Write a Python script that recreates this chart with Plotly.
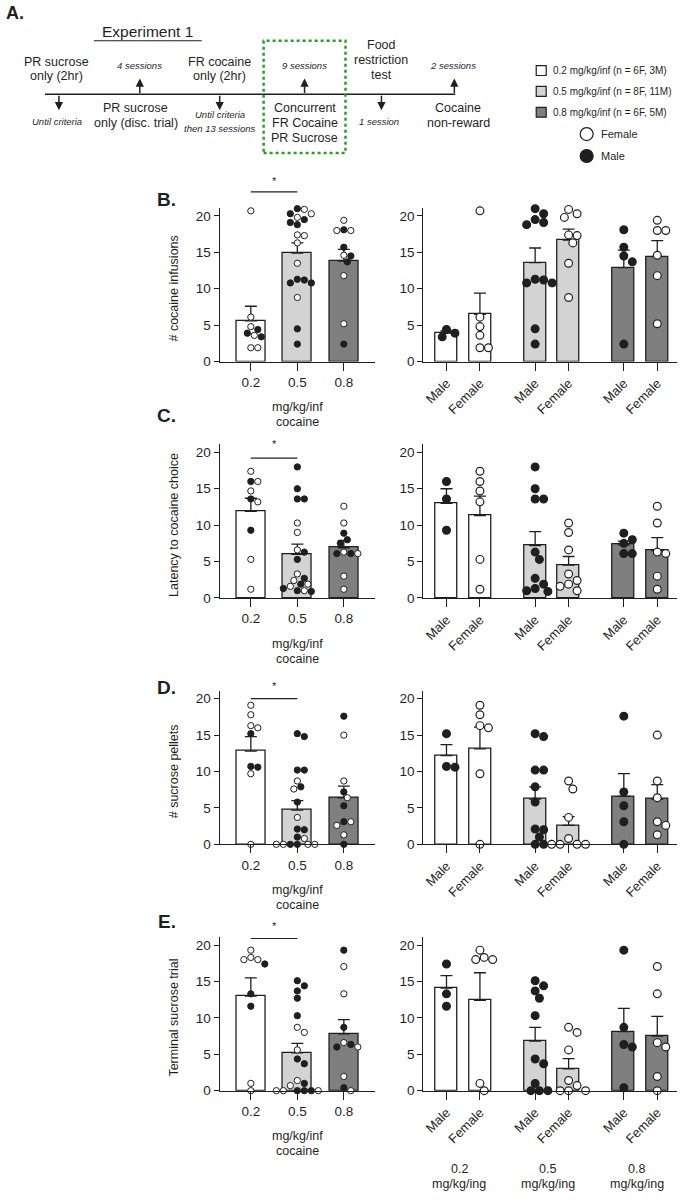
import numpy as np
import plotly.graph_objects as go

W, H = 690, 1200
FONT = "Liberation Sans, Arial, Helvetica, sans-serif"
INK = "#1f1f1f"

# ------------------------------------------------------------------ data
doses = ["0.2", "0.5", "0.8"]
sex_labels = ["Male", "Female"]
dose_fill = ["#ffffff", "#d3d3d3", "#7f7f7f"]
legend_labels = ["0.2 mg/kg/inf (n = 6F, 3M)", "0.5 mg/kg/inf (n = 8F, 11M)", "0.8 mg/kg/inf (n = 6F, 5M)"]
panel_letters = ["B.", "C.", "D.", "E."]
y_titles = ["# cocaine infusions", "Latency to cocaine choice", "# sucrose pellets", "Terminal sucrose trial"]
y_ticks = [0, 5, 10, 15, 20]
bottom_labels = ["0.2<br>mg/kg/ing", "0.5<br>mg/kg/ing", "0.8<br>mg/kg/ing"]

# B: # cocaine infusions (individual animals per dose)
B_male = [[3.4, 4.4, 3.9],
          [21.0, 20.3, 19.5, 18.8, 19.1, 11.3, 10.8, 10.8, 11.2, 4.5, 2.4],
          [18.1, 14.5, 15.7, 13.7, 2.4]]
B_female = [[20.7, 6.1, 4.8, 3.6, 1.9, 1.9],
            [20.9, 20.3, 19.8, 17.3, 17.4, 16.3, 13.5, 8.8],
            [18.0, 19.4, 18.0, 14.6, 11.8, 5.2]]
B_mean_all = [5.6, 14.9, 13.8]
B_sem_all = [2.0, 1.4, 1.6]
B_mean_m = [3.9, 13.6, 12.9]
B_sem_m = [0.3, 2.0, 2.4]
B_mean_f = [6.5, 16.7, 14.4]
B_sem_f = [2.9, 1.5, 2.2]

# C: latency to cocaine choice
C_male = [[16.0, 13.6, 9.3],
          [18.0, 15.0, 13.6, 13.6, 6.3, 5.3, 2.7, 1.9, 1.3, 1.0, 0.9],
          [8.9, 7.5, 8.0, 6.1, 6.1]]
C_female = [[17.4, 16.0, 14.7, 13.2, 5.3, 1.2],
            [10.3, 9.0, 6.6, 3.3, 2.4, 1.9, 1.6, 1.0],
            [12.6, 10.3, 6.1, 6.3, 3.0, 1.2]]
C_mean_all = [11.9, 6.0, 6.9]
C_sem_all = [1.8, 1.4, 1.0]
C_mean_m = [13.0, 7.2, 7.3]
C_sem_m = [2.0, 1.9, 0.5]
C_mean_f = [11.3, 4.5, 6.5]
C_sem_f = [2.7, 1.2, 1.8]

# D: # sucrose pellets
D_male = [[15.2, 10.6, 10.7],
          [15.2, 14.8, 10.2, 10.2, 7.9, 5.8, 2.1, 2.0, 1.0, 0.0, 0.0],
          [17.6, 7.2, 5.3, 3.1, 0.0]]
D_female = [[19.1, 17.8, 16.0, 16.3, 9.7, 0.0],
            [8.7, 7.6, 3.7, 0.8, 0.0, 0.0, 0.0, 0.0],
            [15.0, 8.7, 6.4, 3.1, 2.6, 1.3]]
D_mean_all = [12.8, 4.7, 6.4]
D_sem_all = [2.0, 1.3, 1.6]
D_mean_m = [12.2, 6.2, 6.6]
D_sem_m = [1.5, 1.7, 3.1]
D_mean_f = [13.1, 2.6, 6.2]
D_sem_f = [3.0, 1.2, 2.0]

# E: terminal sucrose trial
E_male = [[17.4, 13.3, 11.6],
          [15.1, 14.4, 13.7, 12.7, 10.3, 4.35, 3.7, 1.0, 0.0, 0.0, 0.0],
          [19.3, 8.7, 6.35, 6.0, 0.4]]
E_female = [[19.3, 18.3, 18.0, 18.0, 1.0, 0.0],
            [8.7, 8.0, 5.6, 1.4, 0.7, 0.0, 0.0, 0.0],
            [17.05, 13.3, 6.0, 6.6, 1.95, 0.0]]
E_mean_all = [13.0, 5.2, 7.8]
E_sem_all = [2.5, 1.3, 1.95]
E_mean_m = [14.1, 6.8, 8.1]
E_sem_m = [1.7, 1.9, 3.2]
E_mean_f = [12.4, 3.0, 7.5]
E_sem_f = [3.8, 1.4, 2.7]

sig_line = [23.3, 19.2, 20.0, 20.9]   # 0.2 vs 0.5 comparison bar height
sig_star = [24.8, 21.1, 21.8, 22.6]

panels = [
    (B_male, B_female, B_mean_all, B_sem_all, B_mean_m, B_sem_m, B_mean_f, B_sem_f),
    (C_male, C_female, C_mean_all, C_sem_all, C_mean_m, C_sem_m, C_mean_f, C_sem_f),
    (D_male, D_female, D_mean_all, D_sem_all, D_mean_m, D_sem_m, D_mean_f, D_sem_f),
    (E_male, E_female, E_mean_all, E_sem_all, E_mean_m, E_sem_m, E_mean_f, E_sem_f),
]

# ------------------------------------------------------------------ geometry
AX_Y0 = [364, 602, 850, 1098]      # pixel row of y = 0 for each row
PPU_Y = 7.33                       # pixels per y unit
Y_TOP = 21.1
L_X0, L_X1, L_RANGE = 219, 375, (-0.67, 2.68)
R_X0, R_X1, R_RANGE = 423, 677, (-0.69, 6.89)
GROUP_STEP = 2.65
L_PPU = (L_X1 - L_X0) / (L_RANGE[1] - L_RANGE[0])
R_PPU = (R_X1 - R_X0) / (R_RANGE[1] - R_RANGE[0])


def px(x):
    return x / W


def py(y):
    return 1 - y / H


def lx_px(pos):
    return L_X0 + (pos - L_RANGE[0]) * L_PPU


def swarm(values, xppu, yppu, d):
    """Greedy beeswarm: returns x offsets (data units) so markers don't overlap."""
    order = sorted(range(len(values)), key=lambda i: -values[i])
    res = [0.0] * len(values)
    placed = []
    step = d * 0.5
    cands = [0.0]
    for n in range(1, 40):
        cands += [n * step, -n * step]
    for i in order:
        yv = values[i] * yppu
        for c in cands:
            if all((c - a) ** 2 + (yv - b) ** 2 >= (d * 0.95) ** 2 for a, b in placed):
                res[i] = c / xppu
                placed.append((c, yv))
                break
    return res


fig = go.Figure()
layout_axes = {}
anns = []
shapes = []


def note(x, y, text, size=12.5, xanchor="center", yanchor="middle", **kw):
    anns.append(dict(x=px(x), y=py(y), xref="paper", yref="paper", text=text,
                     showarrow=False, xanchor=xanchor, yanchor=yanchor,
                     font=dict(family=FONT, size=size, color=INK), **kw))


axis_common = dict(showline=True, linecolor=INK, linewidth=1.3, ticks="outside",
                   tickcolor=INK, tickwidth=1.3, showgrid=False, zeroline=False,
                   tickfont=dict(family=FONT, size=13.5, color=INK), fixedrange=True)

for r, (m_vals, f_vals, mean_all, sem_all, mean_m, sem_m, mean_f, sem_f) in enumerate(panels):
    li, ri = 2 * r + 1, 2 * r + 2
    xl = "x" if li == 1 else f"x{li}"
    yl = "y" if li == 1 else f"y{li}"
    xr, yr = f"x{ri}", f"y{ri}"
    y0 = AX_Y0[r]
    ydom = [py(y0), py(y0 - Y_TOP * PPU_Y)]

    # ---- left: by dose
    fig.add_trace(go.Bar(
        x=list(range(3)), y=mean_all, width=0.62, xaxis=xl, yaxis=yl,
        marker=dict(color=dose_fill, line=dict(color=INK, width=1.3)),
        error_y=dict(type="data", array=sem_all, arrayminus=[0] * 3, symmetric=False,
                     color=INK, thickness=1.3, width=6),
        hoverinfo="skip"))
    xs, ys, cols = [], [], []
    for i in range(3):
        vals = m_vals[i] + f_vals[i]
        offs = swarm(vals, L_PPU, PPU_Y, 7.0)
        xs += [i + o for o in offs]
        ys += vals
        cols += [INK] * len(m_vals[i]) + ["white"] * len(f_vals[i])
    fig.add_trace(go.Scatter(
        x=xs, y=ys, mode="markers", xaxis=xl, yaxis=yl, cliponaxis=False,
        marker=dict(size=6.3, color=cols, line=dict(color=INK, width=1)),
        hoverinfo="skip"))

    # ---- right: by dose and sex
    rpos, rmean, rsem, rcol, rtext = [], [], [], [], []
    for i in range(3):
        for s in range(2):
            rpos.append(i * GROUP_STEP + s)
            rmean.append(mean_m[i] if s == 0 else mean_f[i])
            rsem.append(sem_m[i] if s == 0 else sem_f[i])
            rcol.append(dose_fill[i])
            rtext.append(sex_labels[s])
    fig.add_trace(go.Bar(
        x=rpos, y=rmean, width=0.66, xaxis=xr, yaxis=yr,
        marker=dict(color=rcol, line=dict(color=INK, width=1.3)),
        error_y=dict(type="data", array=rsem, arrayminus=[0] * 6, symmetric=False,
                     color=INK, thickness=1.3, width=6),
        hoverinfo="skip"))
    xs, ys, cols = [], [], []
    for i in range(3):
        for s, vals in enumerate([m_vals[i], f_vals[i]]):
            offs = swarm(vals, R_PPU, PPU_Y, 8.5)
            base = i * GROUP_STEP + s
            xs += [base + o for o in offs]
            ys += vals
            cols += [INK if s == 0 else "white"] * len(vals)
    fig.add_trace(go.Scatter(
        x=xs, y=ys, mode="markers", xaxis=xr, yaxis=yr, cliponaxis=False,
        marker=dict(size=7.8, color=cols, line=dict(color=INK, width=1.2)),
        hoverinfo="skip"))

    # ---- axes
    layout_axes["xaxis" if li == 1 else f"xaxis{li}"] = dict(
        axis_common, domain=[px(L_X0), px(L_X1)], range=list(L_RANGE), anchor=yl,
        tickvals=[0, 1, 2], ticktext=doses, ticklen=8)
    layout_axes["yaxis" if li == 1 else f"yaxis{li}"] = dict(
        axis_common, domain=ydom, range=[0, Y_TOP], anchor=xl, tickvals=y_ticks, ticklen=5)
    layout_axes[f"xaxis{ri}"] = dict(
        axis_common, domain=[px(R_X0), px(R_X1)], range=list(R_RANGE), anchor=yr,
        tickvals=rpos, ticktext=rtext, ticklen=8, tickangle=-45,
        tickfont=dict(family=FONT, size=13, color=INK))
    layout_axes[f"yaxis{ri}"] = dict(
        axis_common, domain=ydom, range=[0, Y_TOP], anchor=xr, tickvals=y_ticks, ticklen=5)

    # ---- annotations for the row
    note(166, [201, 418, 692, 928][r], "<b>%s</b>" % panel_letters[r], size=19)
    note(173, y0 - 10 * PPU_Y, y_titles[r], size=12.5, textangle=-90)
    note((L_X0 + L_X1) / 2, y0 + 46, "mg/kg/inf", size=12.5)
    note((L_X0 + L_X1) / 2, y0 + 61, "cocaine", size=12.5)
    ly = y0 - sig_line[r] * PPU_Y
    shapes.append(dict(type="line", xref="paper", yref="paper",
                       x0=px(lx_px(0)), x1=px(lx_px(1)), y0=py(ly), y1=py(ly),
                       line=dict(color=INK, width=1.2)))
    note(lx_px(0.5), y0 - sig_star[r] * PPU_Y, "*", size=11)

for i, lab in enumerate(bottom_labels):
    cx = R_X0 + (i * GROUP_STEP + 0.5 - R_RANGE[0]) * R_PPU - 4
    top, bot = lab.split("<br>")
    note(cx, 1177, top, size=12.5)
    note(cx, 1192, bot, size=12.5)

# ------------------------------------------------------------------ panel A
note(14, 13, "<b>A.</b>", size=18)
note(147, 32, "Experiment 1", size=15.5)
shapes.append(dict(type="line", xref="paper", yref="paper", x0=px(93), x1=px(201),
                   y0=py(41), y1=py(41), line=dict(color=INK, width=1.2)))

above = [(56, [62, 77], ["PR sucrose", "only (2hr)"]),
         (219, [62, 77], ["FR cocaine", "only (2hr)"]),
         (381, [45, 60, 75], ["Food", "restriction", "test"])]
below = [(135, [109, 124], ["PR sucrose", "only (disc. trial)"]),
         (304, [109, 124, 139], ["Concurrent", "FR Cocaine", "PR Sucrose"]),
         (458, [109, 124], ["Cocaine", "non-reward"])]
for cx, ys_, lines in above + below:
    for yy, t in zip(ys_, lines):
        note(cx, yy, t, size=12.5)

italics = [(139, 66, "4 sessions"), (304, 66, "9 sessions"), (453, 66, "2 sessions"),
           (56, 122, "Until criteria"), (219, 115, "Until criteria"),
           (219, 129, "then 13 sessions"), (379, 122, "1 session")]
for cx, yy, t in italics:
    note(cx, yy, "<i>%s</i>" % t, size=9.5)

TL_Y = 95
shapes.append(dict(type="line", xref="paper", yref="paper", x0=px(44), x1=px(455),
                   y0=py(TL_Y), y1=py(TL_Y), line=dict(color=INK, width=1.5)))
for xa in [139, 304, 454]:
    anns.append(dict(x=px(xa), y=py(79), xref="paper", yref="paper", ax=0, ay=16,
                     showarrow=True, arrowhead=2, arrowsize=1.1, arrowwidth=1.5,
                     arrowcolor=INK, text=""))
for xa in [58, 219, 381]:
    anns.append(dict(x=px(xa), y=py(111), xref="paper", yref="paper", ax=0, ay=-16,
                     showarrow=True, arrowhead=2, arrowsize=1.1, arrowwidth=1.5,
                     arrowcolor=INK, text=""))
shapes.append(dict(type="rect", xref="paper", yref="paper", x0=px(263), x1=px(345),
                   y0=py(154), y1=py(41), line=dict(color="#2e9a2e", width=2.5, dash="dot")))

# legend
for i, lab in enumerate(legend_labels):
    yc = [71, 92, 113][i]
    shapes.append(dict(type="rect", xref="paper", yref="paper", x0=px(536), x1=px(546),
                       y0=py(yc + 5), y1=py(yc - 5), fillcolor=dose_fill[i],
                       line=dict(color=INK, width=1.2)))
    note(551, yc, lab, size=10, xanchor="left")
for yc, fill, lab in [(135, "white", "Female"), (157, INK, "Male")]:
    shapes.append(dict(type="circle", xref="paper", yref="paper", x0=px(580), x1=px(593),
                       y0=py(yc + 6.5), y1=py(yc - 6.5), fillcolor=fill,
                       line=dict(color=INK, width=1.2)))
    note(599, yc, lab, size=11, xanchor="left")

fig.update_layout(
    width=W, height=H, margin=dict(l=0, r=0, t=0, b=0),
    paper_bgcolor="white", plot_bgcolor="white", showlegend=False,
    font=dict(family=FONT, color=INK), bargap=0,
    annotations=anns, shapes=shapes, **layout_axes)

fig.write_html("out.html")
